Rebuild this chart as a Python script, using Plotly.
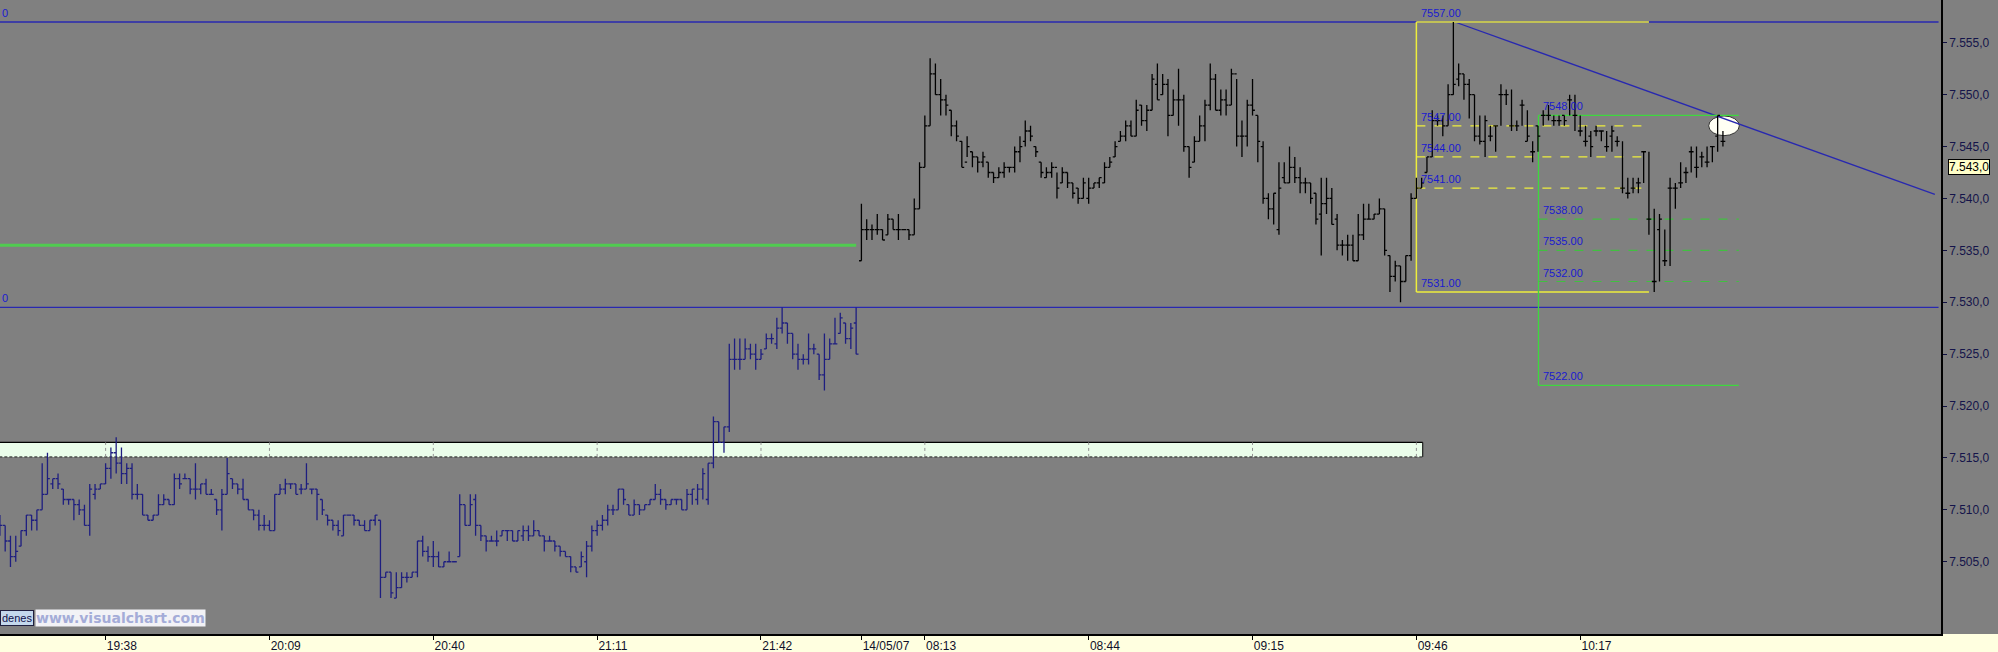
import plotly.graph_objects as go

# ---------------- data (1-minute bars) ----------------
# evening session 13/05/07 19:18 .. 22:00  (bar index 0..162)
eve_open = [7508,7508.5,7507,7505.5,7506.5,7508,7509.5,7509,7510,7511.5,7512.5,7513,7512,7511,7511,7510.5,7510,7508.5,7511.5,7512,
            7512.5,7514,7515.5,7514.5,7513.5,7514,7511.5,7511.5,7509.5,7509,7509.5,7510.5,7511,7510.5,7513,7513,7513,7512,7512,7512.5,
            7511.5,7511,7510,7511.5,7513,7512.5,7512,7511,7510,7509.5,7508.5,7508.5,7508,7511.5,7512,7512.5,7512.5,7512,7512,7512,
            7512,7511,7509.5,7509,7508.5,7507.5,7509.5,7509.5,7509,7508.5,7508,7509,7509,7503.5,7504,7501.5,7502.5,7503.5,7503.5,7504,
            7507,7506,7505.5,7505.5,7504.5,7505,7505,7505.5,7510.5,7508.5,7511,7508.5,7507.5,7507,7507,7507.5,7508,7508,7507,7507.5,
            7508,7507.5,7508,7507.5,7507,7507,7506.5,7506,7505.5,7504.5,7504.5,7505,7506.5,7508,7508.5,7509,7510,7510,7512,7510.5,
            7509.5,7510.5,7510,7510.5,7511,7511.5,7511,7510.5,7511,7511,7510,7511.5,7511,7512,7511,7514.5,7518.5,7516.5,7518,7524.5,
            7524.5,7524.5,7525.5,7525,7524.5,7525.5,7526.5,7526,7527.5,7528,7527,7525,7524.5,7524.5,7525.5,7525,7523,7524.5,7526,7527,
            7528,7526.5,7528]
eve_high = [7509.5,7508.5,7507.5,7507.5,7508,7509.5,7509.5,7510,7514.5,7515.5,7513,7513.5,7512,7511,7511,7511,7510.5,7512.5,7512.5,7512.5,
            7514.5,7516,7517,7516,7514.5,7514.5,7512.5,7511.5,7509.5,7509.5,7511.5,7511.5,7511,7513.5,7513.5,7513.5,7513,7514.5,7512.5,7513,
            7512,7511,7512,7515,7513,7512.5,7513,7511,7510,7510,7509.5,7509,7511.5,7512.5,7513,7512.5,7512.5,7512.5,7514.5,7512,
            7512,7511,7509.5,7509,7509,7509.5,7509.5,7509.5,7509,7509,7509,7509.5,7509,7504,7504,7504,7504,7504,7504,7507,
            7507.5,7506.5,7507,7506,7505,7506,7505,7511.5,7510.5,7511.5,7511.5,7508.5,7507.5,7507.5,7508,7508,7508,7508,7508,7508.5,
            7508.5,7509,7508,7507.5,7507.5,7507,7506.5,7506,7505.5,7504.5,7506,7507,7508.5,7509,7509.5,7510.5,7510.5,7512,7512,7510.5,
            7511,7510.5,7510.5,7511,7512.5,7512,7511,7511,7511,7511,7512,7512,7512.5,7514,7514.5,7519,7518.5,7518,7526,7526.5,
            7526.5,7526.5,7526,7526,7525.5,7527,7527,7528.5,7529.5,7528,7527,7526,7525,7527,7526,7525,7527,7526.5,7528.5,7529,
            7528,7528,7529.5]
eve_low = [7507.5,7506,7504.5,7505,7506.5,7507.5,7508,7508,7510,7511.5,7512,7512,7510.5,7510.5,7509,7509.5,7508.5,7507.5,7511,7512,
           7512.5,7513,7513.5,7512.5,7512.5,7511,7511,7509.5,7509,7509,7509.5,7510.5,7510.5,7510.5,7512,7513,7511.5,7511,7511.5,7511.5,
           7511.5,7509.5,7508,7511.5,7512,7511.5,7511,7510,7509,7508,7508,7508,7508,7511.5,7511.5,7512,7511.5,7511.5,7512,7511.5,
           7509,7509.5,7508.5,7508,7507.5,7507.5,7509.5,7508.5,7508.5,7508,7508,7508.5,7501.5,7503.5,7501.5,7501.5,7502.5,7503,7503.5,7503.5,
           7505.5,7505,7504.5,7504.5,7504.5,7505,7505,7505.5,7508.5,7508.5,7507.5,7507,7506,7507,7506.5,7507.5,7507,7507,7507,7507,
           7507,7507.5,7507.5,7506,7507,7506,7505.5,7505.5,7504,7504,7504.5,7503.5,7506,7507.5,7508,7508.5,7509.5,7510,7510.5,7509.5,
           7509.5,7509.5,7510,7510.5,7511,7510.5,7510,7510.5,7510.5,7510,7510,7510.5,7510.5,7511,7510.5,7514,7516.5,7515.5,7517.5,7523.5,
           7523.5,7524.5,7524.5,7523.5,7524.5,7525.5,7526,7525.5,7527,7526,7524.5,7523.5,7524,7524,7525,7522.5,7521.5,7524.5,7526,7527,
           7526,7525.5,7525]
eve_close = [7508.5,7507,7505.5,7506,7508,7509.5,7509,7510,7511.5,7513,7513,7512.5,7511,7511,7510.5,7510,7508.5,7512,7512,7512.5,
             7514,7515.5,7514.5,7513.5,7514,7511.5,7511.5,7509.5,7509,7509.5,7510.5,7511,7510.5,7513,7512.5,7513,7512,7512,7512.5,7511.5,
             7511.5,7510,7511.5,7513.5,7512.5,7512,7511,7510,7509.5,7508.5,7508.5,7508,7511.5,7512,7512.5,7512.5,7511.5,7512,7512.5,7512,
             7511.5,7510,7509,7508.5,7508,7509.5,7509.5,7509,7508.5,7508,7509,7509.5,7503.5,7504,7502,7502.5,7503.5,7503.5,7504,7507,
             7506,7505.5,7505.5,7504.5,7505,7505,7505,7510.5,7508.5,7510.5,7508.5,7507.5,7507,7507,7507,7508,7508,7507,7508,7508,
             7507.5,7508,7507.5,7507,7507,7506.5,7506,7505.5,7504.5,7504,7505.5,7506.5,7508,7508.5,7509,7510,7510,7512,7511,7509.5,
             7510.5,7510,7510.5,7511,7511.5,7511,7510.5,7511,7511,7510,7511.5,7512,7512,7513.5,7514.5,7518.5,7516.5,7518,7524.5,7524.5,
             7524.5,7525.5,7525,7524.5,7525,7526.5,7526.5,7527.5,7528,7527,7525,7524.5,7524.5,7525.5,7525.5,7523,7524.5,7526,7526,7528.5,
             7526.5,7527.5,7525]

# morning session 14/05/07 08:01 .. 10:45  (bar index 163..327)
mor_open = [7534,7537,7537,7537,7537,7536.5,7538,7537,7537,7537,7536.5,7539,7543,7547,7552,7550,7549.5,7548.5,7547,7545.5,
            7543.5,7544.5,7544,7543.5,7543.5,7542.5,7542,7542.5,7543,7543,7544.5,7545.5,7546.5,7545,7543.5,7542,7542.5,7543,7541.5,7542.5,
            7541.5,7541,7540,7540,7541,7541.5,7541.5,7543,7544,7545.5,7546,7547,7546,7549,7547.5,7548.5,7551,7550,7551,7548,
            7549.5,7549.5,7545,7543.5,7545.5,7547,7549,7551.5,7548.5,7549.5,7549,7552,7546,7546,7549,7548,7545,7540,7539,7537,
            7542,7541.5,7543,7542,7541.5,7541.5,7540.5,7538.5,7539.5,7540,7538,7535.5,7535.5,7535.5,7534,7536.5,7538,7538,7538.5,7539,
            7534.5,7532.5,7533.5,7532,7534.5,7540,7541,7542.5,7544,7547.5,7547.5,7547,7550,7551.5,7552,7551,7550,7546,7545.5,7546,
            7547,7550,7550,7547,7547,7549,7545.5,7544.5,7547,7548,7548,7547.5,7547.5,7548,7549.5,7548,7546.5,7545.5,7546,7546.5,
            7546.5,7545,7546,7545.5,7541,7540.5,7541,7541.5,7544.5,7538,7532,7537,7534,7541,7541,7541.5,7542.5,7544.5,7543,7544,
            7543.5,7545,7546,7545.5]
mor_high = [7539.5,7538,7537.5,7538.5,7537,7538.5,7538,7538.5,7537,7537,7540,7543.5,7548,7553.5,7553,7551.5,7550,7548.5,7547.5,7545.5,
            7546,7544.5,7544,7544.5,7543.5,7542.5,7543,7543.5,7543,7545,7546,7547.5,7547,7545,7543.5,7543,7543.5,7542.5,7543,7542.5,
            7541.5,7541,7542,7542,7541.5,7542,7543.5,7544,7545.5,7546.5,7547.5,7547.5,7549.5,7549,7549,7552,7553,7552,7551.5,7550.5,
            7552.5,7550,7545,7546,7548,7549.5,7553,7552,7550.5,7550.5,7552.5,7551.5,7547.5,7549.5,7551.5,7548,7545.5,7540.5,7540.5,7543.5,
            7543.5,7545,7544,7543,7542,7541.5,7540.5,7542,7542,7541,7538.5,7536,7536.5,7536.5,7538.5,7539.5,7539.5,7538.5,7540,7539,
            7534.5,7534,7533.5,7534.5,7540.5,7542,7542,7544,7548.5,7548,7548,7551,7557,7553,7552,7551.5,7550,7548,7548,7547,
            7547,7551,7550.5,7550.5,7547.5,7549.5,7548.5,7545.5,7547,7548.5,7549,7548,7548,7548,7550,7550,7548,7547,7546.5,7547,
            7546.5,7546.5,7547,7546,7545.5,7542,7542,7542,7544.5,7544.5,7539,7538.5,7537,7542,7541.5,7543.5,7543,7545,7545,7544.5,
            7545,7545,7548,7546.5,7545.5]
mor_low = [7534,7536,7536,7536.5,7536,7536.5,7537,7536,7537,7536,7536.5,7539,7543,7547,7550,7548,7548,7546,7545.5,7543,
           7544,7543,7542.5,7543,7542,7541.5,7542,7542,7542.5,7542.5,7543.5,7545,7545.5,7544,7542,7542,7542,7540,7541.5,7541,
           7540,7539.5,7540,7539.5,7541,7541,7541.5,7543,7544,7545.5,7545.5,7546,7546,7547,7546.5,7548.5,7549.5,7550,7546,7548,
           7547,7544.5,7542,7543.5,7545.5,7545.5,7548.5,7548.5,7548,7548,7549,7545,7544,7545,7548,7543.5,7539.5,7538,7537.5,7536.5,
           7541.5,7541.5,7541.5,7540.5,7540.5,7539.5,7537.5,7534.5,7538.5,7537.5,7535,7534.5,7534,7534,7534,7536,7538,7538,7538.5,7534.5,
           7531,7532,7530,7532,7534,7540,7541,7542.5,7544,7547,7546,7547,7550,7550.8,7549.5,7547.7,7545.5,7545.2,7544,7545.5,
           7544.5,7547,7549,7546.5,7546.5,7547,7545.5,7543.5,7544.5,7547,7547.5,7547,7547,7547,7548,7546.5,7546,7545,7544,7546,
           7545.5,7544.5,7544.5,7545,7540.5,7540,7540.5,7540.5,7541.5,7536.5,7531,7532,7533.5,7533.5,7539,7541,7541.5,7542.5,7542,7543,
           7543,7543.5,7544.5,7545,7541.5]
mor_close = [7537,7537,7537,7537,7536,7538,7537,7537,7537,7536.5,7539,7543,7547,7552,7550,7549.5,7549,7547,7546,7543,
             7545,7544,7543.5,7544,7542.5,7542,7542.5,7543,7543,7544.5,7545,7546.5,7546,7544.5,7542.5,7542.5,7543,7541,7542.5,7541.5,
             7540.5,7540,7541.5,7541,7541.5,7542,7543,7543.5,7545,7546,7547,7546,7548.5,7547.5,7548.5,7551.5,7549.5,7551,7548,7549.5,
             7549.5,7545,7543,7545.5,7547,7549,7551.5,7548.5,7549.5,7549,7552,7546,7546,7549,7548.5,7545.5,7540,7539,7540.5,7541,
             7541.5,7543,7542,7541.5,7541.5,7540,7538,7539.5,7540,7537.5,7535.5,7535.5,7535.5,7534,7536.5,7538,7538,7538.5,7539,7535,
             7532.5,7533.5,7532,7534.5,7540,7541,7541.5,7544,7547.5,7547.5,7547,7550,7551,7552,7551,7550,7546,7545.5,7547.5,7546,
             7547,7550,7550,7547,7547,7549,7546,7544.5,7546,7548,7548,7547.5,7547.5,7547.5,7549.5,7548,7546.5,7545.5,7545,7546.5,
             7546.5,7545,7546.5,7545.5,7541,7540.5,7541,7541.5,7544.5,7538,7532,7538,7534,7541,7541,7541.5,7542.5,7544.5,7543,7544,
             7543.5,7545,7548,7545.5,7543]

tick_pos = [20, 51, 82, 113, 144, 163, 175, 206, 237, 268, 299]
tick_txt = ["19:38", "20:09", "20:40", "21:11", "21:42", "14/05/07", "08:13", "08:44", "09:15", "09:46", "10:17"]
grid_pos = [20, 51, 82, 113, 144, 175, 206, 237, 268]

y_ticks = [7505, 7510, 7515, 7520, 7525, 7530, 7535, 7540, 7545, 7550, 7555]
y_text = ["7.505,0", "7.510,0", "7.515,0", "7.520,0", "7.525,0", "7.530,0", "7.535,0", "7.540,0", "7.545,0", "7.550,0", "7.555,0"]

fib_box = [7557, 7547, 7544, 7541, 7531]         # yellow retracement
proj_lvls = [7548, 7538, 7535, 7532, 7522]       # green projection
last_price = 7543.0
hi_line, lo_line = 7557, 7529.5
green_lvl = 7535.5
band_lo, band_hi = 7515.1, 7516.5

# ---------------- styles ----------------
BG = "#808080"
NAVY = "#1e1e80"
BLUE = "#2828b0"
LBL = "#1a1ad0"
YEL = "#eeee3c"
GRN = "#3ed83e"
FONT = "Arial, Liberation Sans, sans-serif"

x_eve = list(range(len(eve_open)))
x_mor = list(range(len(eve_open), len(eve_open) + len(mor_open)))

fig = go.Figure()
fig.add_trace(go.Ohlc(x=x_eve, open=eve_open, high=eve_high, low=eve_low, close=eve_close,
                      increasing=dict(line=dict(color=NAVY, width=1.3)),
                      decreasing=dict(line=dict(color=NAVY, width=1.3)),
                      tickwidth=0.45, hoverinfo="skip", showlegend=False))
fig.add_trace(go.Ohlc(x=x_mor, open=mor_open, high=mor_high, low=mor_low, close=mor_close,
                      increasing=dict(line=dict(color="#000000", width=1.3)),
                      decreasing=dict(line=dict(color="#000000", width=1.3)),
                      tickwidth=0.45, hoverinfo="skip", showlegend=False))

shapes = []
# bottom time strip
shapes.append(dict(type="rect", xref="paper", yref="paper", x0=0, x1=1.04, y0=-0.03, y1=0,
                   fillcolor="#ffffe0", line=dict(width=0), layer="below"))
# order band
shapes.append(dict(type="rect", xref="x", yref="y", x0=-2, x1=269.2, y0=band_lo, y1=band_hi,
                   fillcolor="#eafdea", line=dict(width=0), layer="below"))
shapes.append(dict(type="line", x0=-2, x1=269.2, y0=band_hi, y1=band_hi, line=dict(color="#000", width=1.2), layer="below"))
shapes.append(dict(type="line", x0=-2, x1=269.2, y0=band_lo, y1=band_lo, line=dict(color="#202020", width=1, dash="3px,2px"), layer="below"))
shapes.append(dict(type="line", x0=269.2, x1=269.2, y0=band_lo, y1=band_hi, line=dict(color="#000", width=1), layer="below"))
for g in grid_pos:
    shapes.append(dict(type="line", x0=g, x1=g, y0=band_lo, y1=band_hi, line=dict(color="#909090", width=1, dash="dot"), layer="below"))
# ellipse mark
shapes.append(dict(type="circle", x0=323.3, x1=329.1, y0=7546.05, y1=7547.95,
                   fillcolor="#fffff4", line=dict(color="#303030", width=1), layer="below"))
# green previous-level line
shapes.append(dict(type="line", x0=-2, x1=162, y0=green_lvl, y1=green_lvl, line=dict(color="#50cc50", width=3), layer="below"))
# blue horizontal lines
for v in (hi_line, lo_line):
    shapes.append(dict(type="line", x0=-2, x1=366.8, y0=v, y1=v, line=dict(color=BLUE, width=1.3), layer="below"))
# trend line
shapes.append(dict(type="line", x0=275.3, x1=366.1, y0=7557, y1=7540.4, line=dict(color=BLUE, width=1.3), layer="below"))
# yellow box (left, top, bottom) + dashed levels
bx0, bx1 = 268.0, 312.0
shapes.append(dict(type="line", x0=bx0, x1=bx0, y0=fib_box[-1], y1=fib_box[0], line=dict(color=YEL, width=1.5), layer="below"))
shapes.append(dict(type="line", x0=bx0, x1=bx1, y0=fib_box[0], y1=fib_box[0], line=dict(color=YEL, width=1.5), layer="below"))
shapes.append(dict(type="line", x0=bx0, x1=bx1, y0=fib_box[-1], y1=fib_box[-1], line=dict(color=YEL, width=1.5), layer="below"))
for v in fib_box[1:-1]:
    shapes.append(dict(type="line", x0=bx0, x1=311.3, y0=v, y1=v, line=dict(color=YEL, width=1.2, dash="dash"), layer="below"))
# green projection
gx0, gx1 = 291.1, 329.0
shapes.append(dict(type="line", x0=gx0, x1=gx0, y0=proj_lvls[-1], y1=proj_lvls[0], line=dict(color=GRN, width=1.3), layer="below"))
for v in (proj_lvls[0], proj_lvls[-1]):
    shapes.append(dict(type="line", x0=gx0, x1=gx1, y0=v, y1=v, line=dict(color=GRN, width=1.3), layer="below"))
for v in proj_lvls[1:-1]:
    shapes.append(dict(type="line", x0=gx0, x1=gx1, y0=v, y1=v, line=dict(color="#40c040", width=1.2, dash="dash"), layer="below"))

ann = []
for v in fib_box:
    ann.append(dict(x=bx0, y=v, text="%d.00" % v, xanchor="left", yanchor="middle", xshift=3, yshift=9,
                    showarrow=False, font=dict(family=FONT, size=11, color=LBL)))
for v in proj_lvls:
    ann.append(dict(x=gx0, y=v, text="%d.00" % v, xanchor="left", yanchor="middle", xshift=3, yshift=9,
                    showarrow=False, font=dict(family=FONT, size=11, color=LBL)))
# tail of the level labels that sit at the left edge
for v in (hi_line, lo_line):
    ann.append(dict(xref="paper", x=0, y=v, text="0", xanchor="left", xshift=0, yanchor="middle", yshift=9,
                    showarrow=False, font=dict(family=FONT, size=11, color=LBL)))
# last price box
ann.append(dict(xref="paper", x=1, y=last_price, text="7.543,0", xanchor="left", xshift=7, yanchor="middle",
                showarrow=False, font=dict(family=FONT, size=12, color="#000"),
                bgcolor="#ffffc8", bordercolor="#000", borderwidth=1, borderpad=0))
# watermark / order tab
ann.append(dict(xref="paper", yref="paper", x=0, y=0, yshift=8, text="denes", xanchor="left", yanchor="bottom",
                showarrow=False, font=dict(family=FONT, size=11, color="#10104a"),
                bgcolor="#c4d8ec", bordercolor="#202040", borderwidth=1, borderpad=1))
ann.append(dict(x=6.6, y=7499.6, text="<b>www.visualchart.com</b>", xanchor="left", yanchor="middle",
                showarrow=False, font=dict(family="DejaVu Sans", size=14, color="#a4acd8"),
                bgcolor="#f2f2f6", borderpad=0))

fig.update_layout(
    width=1998, height=652, autosize=False,
    margin=dict(l=0, r=57, t=0, b=18, pad=0),
    paper_bgcolor=BG, plot_bgcolor=BG,
    shapes=shapes, annotations=ann,
    showlegend=False,
    font=dict(family=FONT, size=12, color="#10104a"),
    xaxis=dict(range=[0.019, 367.26], rangeslider=dict(visible=False), showgrid=False, zeroline=False,
               tickmode="array", tickvals=tick_pos, ticktext=tick_txt, ticks="outside", ticklen=4,
               tickcolor="#000", ticklabelposition="outside right", showline=True, linecolor="#000", linewidth=1.5,
               tickfont=dict(family=FONT, size=12, color="#10102a"), fixedrange=True),
    yaxis=dict(range=[7498.04, 7559.12], side="right", showgrid=False, zeroline=False,
               tickmode="array", tickvals=y_ticks, ticktext=y_text, ticks="outside", ticklen=4, tickcolor="#101040",
               showline=True, linecolor="#000", linewidth=1.5,
               tickfont=dict(family=FONT, size=12, color="#14144a"), fixedrange=True),
)

fig.write_html("out.html", config={"displayModeBar": False},
               post_script="document.body.style.margin='0';document.body.style.overflow='hidden';")
